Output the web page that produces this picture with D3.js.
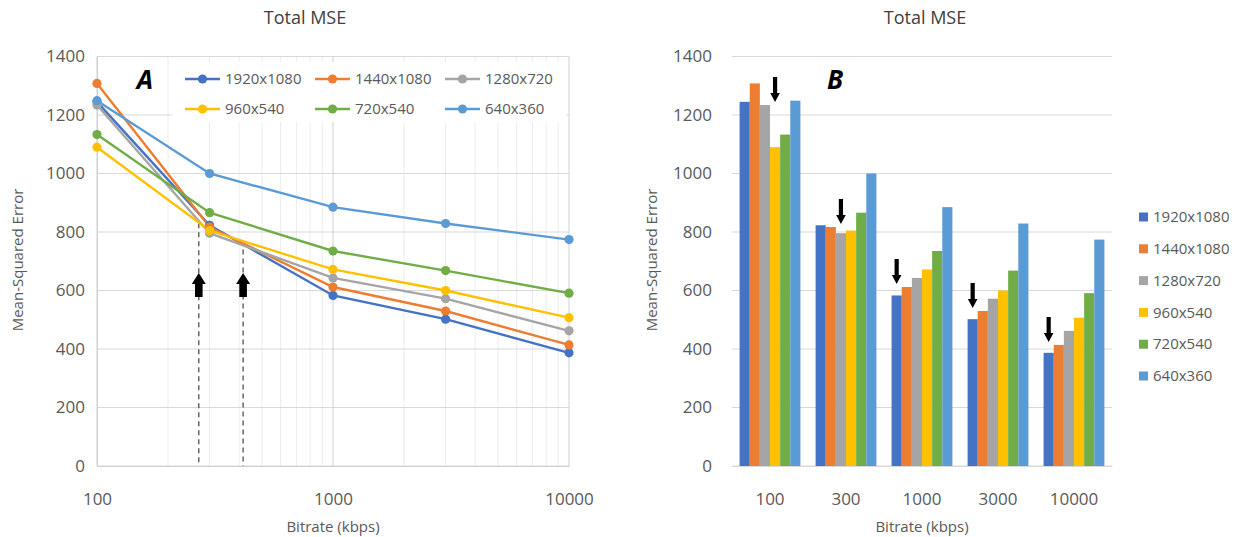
<!DOCTYPE html>
<html>
<head>
<meta charset="utf-8">
<script src="https://cdn.jsdelivr.net/npm/d3@7"></script>
<style>
  body { margin: 0; background: #fff; }
  svg text { font-family: "Open Sans", sans-serif; fill: #595959; }
</style>
</head>
<body>
<svg id="chart" width="1239" height="537"></svg>
<script>
// data
var bitrates = [100, 300, 1000, 3000, 10000];
var resolutions = ["1920x1080", "1440x1080", "1280x720", "960x540", "720x540", "640x360"];
var colors = ["#4472C4", "#ED7D31", "#A5A5A5", "#FFC000", "#70AD47", "#5B9BD5"];
var mse1920 = [1245, 823, 583, 502, 387];
var mse1440 = [1308, 817, 612, 530, 414];
var mse1280 = [1234, 796, 643, 572, 462];
var mse960  = [1090, 805, 672, 600, 507];
var mse720  = [1133, 866, 735, 668, 591];
var mse640  = [1249, 1000, 885, 829, 774];
var yTicks = [0, 200, 400, 600, 800, 1000, 1200, 1400];
var xTicksLog = [100, 1000, 10000];
// crossover markers in panel A (bitrate, top of dashed line, arrow tip, arrow tail)
var crossRates = [270, 416];
var crossTops = [830, 740];
var arrowTip = 660, arrowTail = 578;

var series = [mse1920, mse1440, mse1280, mse960, mse720, mse640];

var svg = d3.select("#chart");
var fmt = d3.format("d");

/* ---------- panel A : line chart, log x ---------- */
var x = d3.scaleLog().domain([100, 10000]).range([97, 569]);
var y = d3.scaleLinear().domain([0, 1400]).range([466, 56.5]);

var gA = svg.append("g");

// minor vertical grid
var minor = [];
[100, 1000].forEach(function (d) {
  for (var k = 2; k < 10; k++) minor.push(d * k);
});
gA.selectAll(".vminor").data(minor).enter().append("line")
    .attr("x1", function (d) { return x(d); }).attr("x2", function (d) { return x(d); })
    .attr("y1", y(0)).attr("y2", y(1400))
    .attr("stroke", "#ececec").attr("stroke-width", 1);

gA.selectAll(".hgrid").data(yTicks).enter().append("line")
    .attr("x1", x(100)).attr("x2", x(10000))
    .attr("y1", function (d) { return y(d); }).attr("y2", function (d) { return y(d); })
    .attr("stroke", "#d9d9d9").attr("stroke-width", 1);

gA.selectAll(".vmajor").data(xTicksLog).enter().append("line")
    .attr("x1", function (d) { return x(d); }).attr("x2", function (d) { return x(d); })
    .attr("y1", y(0)).attr("y2", y(1400))
    .attr("stroke", "#d0d0d0").attr("stroke-width", 1);

// axes
var yAxisA = d3.axisLeft(y).tickValues(yTicks).tickFormat(fmt).tickSize(0).tickPadding(12);
gA.append("g").attr("transform", "translate(" + x(100) + ",0)").call(yAxisA)
  .call(function (g) { g.select(".domain").attr("stroke", "#d0d0d0"); })
  .selectAll("text").style("font-size", "17px").attr("fill", "#595959");

var xAxisA = d3.axisBottom(x).tickValues(xTicksLog).tickFormat(fmt).tickSize(0).tickPadding(27);
gA.append("g").attr("transform", "translate(0," + y(0) + ")").call(xAxisA)
  .call(function (g) { g.select(".domain").attr("stroke", "#d0d0d0"); })
  .selectAll("text").style("font-size", "17px").attr("fill", "#595959");

// dashed crossover lines
gA.selectAll(".cross").data(crossRates).enter().append("line")
    .attr("x1", function (d) { return x(d); }).attr("x2", function (d) { return x(d); })
    .attr("y1", function (d, i) { return y(crossTops[i]); }).attr("y2", y(0))
    .attr("stroke", "#404040").attr("stroke-width", 1.2).attr("stroke-dasharray", "5,4");

// thick up arrows
function upArrow(cx, tip, tail) {
  var hw = 7, sw = 3.8, hh = 11;
  return "M" + cx + "," + tip +
    "L" + (cx + hw) + "," + (tip + hh) + "L" + (cx + sw) + "," + (tip + hh) +
    "L" + (cx + sw) + "," + tail + "L" + (cx - sw) + "," + tail +
    "L" + (cx - sw) + "," + (tip + hh) + "L" + (cx - hw) + "," + (tip + hh) + "Z";
}
gA.selectAll(".uparrow").data(crossRates).enter().append("path")
    .attr("d", function (d) { return upArrow(x(d), y(arrowTip), y(arrowTail)); })
    .attr("fill", "#000");

// legend box
var legA = gA.append("g");
legA.append("rect").attr("x", 172).attr("y", 62).attr("width", 394).attr("height", 60)
    .attr("fill", "#fff");

var line = d3.line().x(function (d, i) { return x(bitrates[i]); }).y(function (d) { return y(d); });

series.forEach(function (s, k) {
  gA.append("path").datum(s).attr("d", line)
    .attr("fill", "none").attr("stroke", colors[k]).attr("stroke-width", 2.4);
});
series.forEach(function (s, k) {
  gA.selectAll(".pt" + k).data(s).enter().append("circle")
    .attr("cx", function (d, i) { return x(bitrates[i]); })
    .attr("cy", function (d) { return y(d); })
    .attr("r", 4.6).attr("fill", colors[k]);
});

resolutions.forEach(function (r, k) {
  var lx = 185 + (k % 3) * 130, ly = k < 3 ? 79 : 109;
  legA.append("line").attr("x1", lx).attr("x2", lx + 35).attr("y1", ly).attr("y2", ly)
    .attr("stroke", colors[k]).attr("stroke-width", 2.4);
  legA.append("circle").attr("cx", lx + 17.5).attr("cy", ly).attr("r", 4.6).attr("fill", colors[k]);
  legA.append("text").attr("x", lx + 40).attr("y", ly).attr("dy", "0.35em")
    .style("font-size", "15px").text(r);
});

gA.append("text").attr("x", 145).attr("y", 80).attr("dy", "0.35em").attr("text-anchor", "middle")
  .style("font-size", "26px").style("font-weight", "bold").style("font-style", "italic")
  .style("fill", "#000").text("A");

gA.append("text").attr("x", 305).attr("y", 18).attr("dy", "0.35em").attr("text-anchor", "middle")
  .style("font-size", "18px").style("fill", "#404040").text("Total MSE");
gA.append("text").attr("x", 333).attr("y", 527).attr("dy", "0.35em").attr("text-anchor", "middle")
  .style("font-size", "15px").text("Bitrate (kbps)");
gA.append("text").attr("transform", "translate(18,260) rotate(-90)").attr("dy", "0.35em")
  .attr("text-anchor", "middle").style("font-size", "15px").text("Mean-Squared Error");

/* ---------- panel B : grouped bars ---------- */
var gB = svg.append("g");
var xb = d3.scaleBand().domain(bitrates).range([732, 1112]).paddingInner(0.2).paddingOuter(0.1);
var xs = d3.scaleBand().domain(d3.range(resolutions.length)).range([0, xb.bandwidth()]);

gB.selectAll(".hgridB").data(yTicks).enter().append("line")
    .attr("x1", 732).attr("x2", 1112)
    .attr("y1", function (d) { return y(d); }).attr("y2", function (d) { return y(d); })
    .attr("stroke", "#d9d9d9").attr("stroke-width", 1);

var yAxisB = d3.axisLeft(y).tickValues(yTicks).tickFormat(fmt).tickSize(0).tickPadding(20);
gB.append("g").attr("transform", "translate(732,0)").call(yAxisB)
  .call(function (g) { g.select(".domain").remove(); })
  .selectAll("text").style("font-size", "17px").attr("fill", "#595959");

var xAxisB = d3.axisBottom(xb).tickFormat(fmt).tickSize(0).tickPadding(27);
gB.append("g").attr("transform", "translate(0," + y(0) + ")").call(xAxisB)
  .call(function (g) { g.select(".domain").attr("stroke", "#d9d9d9"); })
  .selectAll("text").style("font-size", "17px").attr("fill", "#595959");

var groups = gB.selectAll(".grp").data(bitrates).enter().append("g")
    .attr("transform", function (d) { return "translate(" + xb(d) + ",0)"; });
groups.selectAll("rect").data(function (d, i) {
    return series.map(function (s, k) { return { k: k, v: s[i] }; });
  }).enter().append("rect")
    .attr("x", function (d) { return xs(d.k); })
    .attr("width", xs.bandwidth())
    .attr("y", function (d) { return y(d.v); })
    .attr("height", function (d) { return y(0) - y(d.v); })
    .attr("fill", function (d) { return colors[d.k]; });

// down arrows over the lowest bar of each group
function downArrow(cx, tip, tail) {
  var hw = 4.8, sw = 2.1, hh = 9;
  return "M" + cx + "," + tip +
    "L" + (cx + hw) + "," + (tip - hh) + "L" + (cx + sw) + "," + (tip - hh) +
    "L" + (cx + sw) + "," + tail + "L" + (cx - sw) + "," + tail +
    "L" + (cx - sw) + "," + (tip - hh) + "L" + (cx - hw) + "," + (tip - hh) + "Z";
}
bitrates.forEach(function (b, i) {
  var vals = series.map(function (s) { return s[i]; });
  var kMin = vals.indexOf(d3.min(vals));
  var near = vals.slice(Math.max(0, kMin - 1), kMin + 2);
  var tip = y(d3.max(near)) - 3;
  var cx = xb(b) + xs(kMin) + xs.bandwidth() / 2;
  gB.append("path").attr("d", downArrow(cx, tip, tip - 25)).attr("fill", "#000");
});

resolutions.forEach(function (r, k) {
  var ly = 217 + k * 31.8;
  gB.append("rect").attr("x", 1139).attr("y", ly - 4.5).attr("width", 9).attr("height", 9)
    .attr("fill", colors[k]);
  gB.append("text").attr("x", 1153).attr("y", ly).attr("dy", "0.35em")
    .style("font-size", "15px").text(r);
});

gB.append("text").attr("x", 835).attr("y", 80).attr("dy", "0.35em").attr("text-anchor", "middle")
  .style("font-size", "26px").style("font-weight", "bold").style("font-style", "italic")
  .style("fill", "#000").text("B");

gB.append("text").attr("x", 925).attr("y", 18).attr("dy", "0.35em").attr("text-anchor", "middle")
  .style("font-size", "18px").style("fill", "#404040").text("Total MSE");
gB.append("text").attr("x", 922).attr("y", 527).attr("dy", "0.35em").attr("text-anchor", "middle")
  .style("font-size", "15px").text("Bitrate (kbps)");
gB.append("text").attr("transform", "translate(652,260) rotate(-90)").attr("dy", "0.35em")
  .attr("text-anchor", "middle").style("font-size", "15px").text("Mean-Squared Error");
</script>
</body>
</html>
